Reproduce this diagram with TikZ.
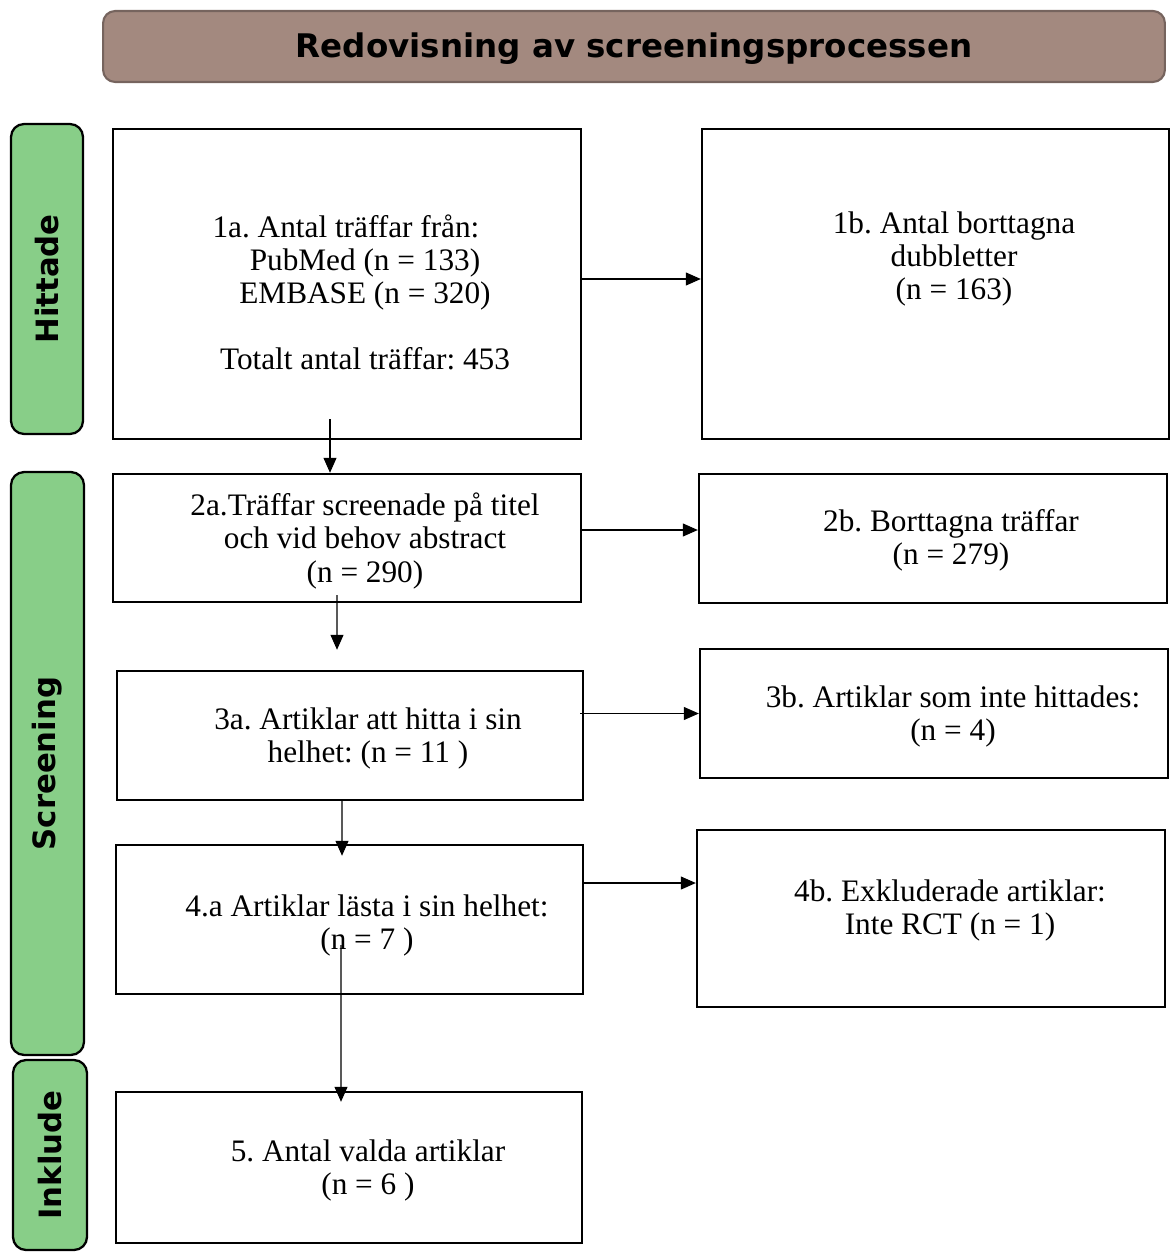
\documentclass[tikz,border=0pt]{standalone}
\usepackage{fontspec}
\setmainfont{Liberation Serif}
\newfontfamily\headfont{DejaVu Sans}
\usepackage{tikz}
\usetikzlibrary{arrows.meta}
\frenchspacing

\definecolor{titlebrown}{RGB}{163,137,127}
\definecolor{titleedge}{RGB}{118,100,94}
\definecolor{sidegreen}{RGB}{136,206,136}

\tikzset{
	box/.style = {draw, line width = 1.4pt, inner sep = 0pt},
	sidebox/.style = {draw, fill = sidegreen, line width = 1.3pt, rounded corners = 0.26cm, inner sep = 0pt},
	sidetext/.style = {rotate = 90, font = \headfont\bfseries\fontsize{17.5}{20}\selectfont},
	boxtext/.style = {align = center, font = \fontsize{17.8}{18.8}\selectfont},
	arr/.style = {-{Triangle[length = 0.3cm, width = 0.26cm]}, line width = 0.6pt}
}

\begin{document}
\begin{tikzpicture}[x = 0.02cm, y = -0.02cm]
				\useasboundingbox (0,0) rectangle (1171,1253);
				\node [draw = titleedge, fill = titlebrown, line width = 1.2pt, rounded corners = 0.24cm, minimum width = 21.24cm, minimum height = 1.42cm] (title) at (634,46.5) {};
				\node [font = \headfont\bfseries\fontsize{18.5}{20}\selectfont] (titletext) at (634,49) {Redovisning av screeningsprocessen};
				\node [sidebox, minimum width = 1.44cm, minimum height = 6.2cm] (hit) at (47,279) {};
				\node [sidebox, minimum width = 1.46cm, minimum height = 11.66cm] (scr) at (47.5,763.5) {};
				\node [sidebox, minimum width = 1.48cm, minimum height = 3.8cm] (ink) at (50,1155) {};
				\node [sidetext] (hittext) at (hit) {Hittade};
				\node [sidetext] (scrtext) at (scr) {Screening};
				\node [sidetext] (inktext) at (ink) {Inklude};
				\node [box, minimum width = 9.36cm, minimum height = 6.2cm] (a1) at (347,284) {};
				\node [box, minimum width = 9.34cm, minimum height = 6.2cm] (b1) at (935.5,284) {};
				\node [box, minimum width = 9.36cm, minimum height = 2.56cm] (a2) at (347,538) {};
				\node [box, minimum width = 9.36cm, minimum height = 2.58cm] (b2) at (933,538.5) {};
				\node [box, minimum width = 9.32cm, minimum height = 2.58cm] (a3) at (350,735.5) {};
				\node [box, minimum width = 9.36cm, minimum height = 2.58cm] (b3) at (934,713.5) {};
				\node [box, minimum width = 9.34cm, minimum height = 2.98cm] (a4) at (349.5,919.5) {};
				\node [box, minimum width = 9.36cm, minimum height = 3.54cm] (b4) at (931,918.5) {};
				\node [box, minimum width = 9.32cm, minimum height = 3.02cm] (a5) at (349,1167.5) {};
				\node [boxtext] (ta1) at (365,292) {1a. Antal träffar från:\hspace*{0.76cm}\\ PubMed (n = 133)\\ EMBASE (n = 320)\\[18.8pt] Totalt antal träffar: 453};
				\node [boxtext] (tb1) at (954,259) {1b. Antal borttagna\\ dubbletter\\ (n = 163)};
				\node [boxtext] (ta2) at (365,541) {2a.Träffar screenade på titel\\ och vid behov abstract\\ (n = 290)};
				\node [boxtext] (tb2) at (951,540) {2b. Borttagna träffar\\ (n = 279)};
				\node [boxtext] (ta3) at (368,738) {3a. Artiklar att hitta i sin\\ helhet: (n = 11 )};
				\node [boxtext] (tb3) at (953,716) {3b. Artiklar som inte hittades:\\ (n = 4)};
				\node [boxtext] (ta4) at (367,925) {4.a Artiklar lästa i sin helhet:\\ (n = 7 )};
				\node [boxtext] (tb4) at (950,910) {4b. Exkluderade artiklar:\\ Inte RCT (n = 1)};
				\node [boxtext] (ta5) at (368,1170) {5. Antal valda artiklar\\ (n = 6 )};
				\draw [arr] ([yshift = 0.1cm]a1.east) -- ([yshift = 0.1cm]b1.west);
				\draw [arr] ([yshift = 0.16cm]a2.east) -- ([yshift = 0.16cm]a2.east -| b2.west);
				\draw [arr] ([xshift = -0.08cm]a3.east |- b3.west) -- (b3.west);
				\draw [arr] ([yshift = 0.73cm]a4.east) -- ([yshift = 0.73cm]a4.east -| b4.west);
				\draw [arr] ([xshift = -0.34cm, yshift = 0.42cm]a1.south) -- ([xshift = -0.34cm]a2.north);
				\draw [arr] ([xshift = -0.2cm, yshift = 0.16cm]a2.south) -- ([xshift = -0.26cm, yshift = 0.4cm]a3.north);
				\draw [arr] ([xshift = -0.16cm]a3.south) -- ([xshift = -0.15cm, yshift = -0.24cm]a4.north);
				\draw [arr] ([xshift = -0.17cm, yshift = -0.51cm]a4.center) -- ([xshift = -0.16cm, yshift = -0.22cm]a5.north);
		\end{tikzpicture}
\end{document}
